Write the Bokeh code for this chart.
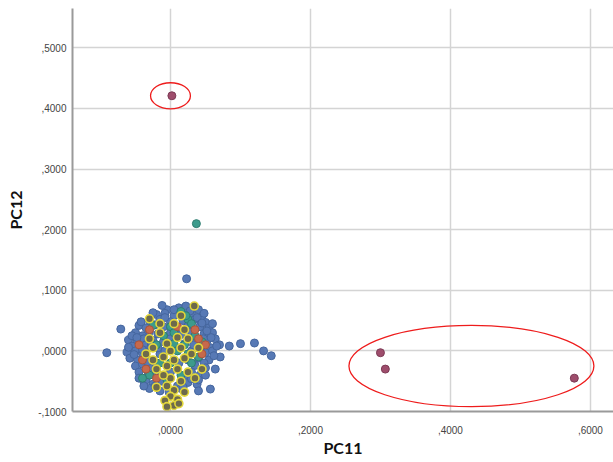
from bokeh.plotting import figure
from bokeh.models import Range1d, FixedTicker, CustomJSTickFormatter
from bokeh.embed import file_html
from bokeh.resources import INLINE

# ---- data (PC11, PC12) ----
blue_x = [-0.005, 0.012, 0.022, 0.040,
          -0.020, -0.008, 0.005, 0.030, 0.045,
          -0.030, -0.015, 0.000, 0.018, 0.035, 0.050,
          -0.045, -0.035, -0.022, -0.010, 0.008, 0.025, 0.042, 0.055,
          -0.071, -0.050, -0.040, -0.030, -0.018, 0.000, 0.015, 0.030, 0.048, 0.060,
          -0.060, -0.048, -0.038, -0.025, 0.005, 0.040, 0.052, 0.064,
          -0.055, -0.045, -0.035, -0.028, 0.045, 0.058, 0.070, 0.084, 0.100, 0.120,
          -0.091, -0.062, -0.050, -0.040, 0.050, 0.060, 0.071, 0.133, 0.144,
          -0.058, -0.047, -0.035, 0.040, 0.055, 0.048,
          -0.050, -0.040, -0.030, 0.035, 0.050, 0.064,
          -0.045, -0.032, -0.020, 0.030, 0.042, 0.020,
          -0.038, -0.025, -0.012, 0.025, 0.038, 0.010,
          -0.030, 0.057, 0.040, -0.015,
          -0.010, 0.020, 0.030, -0.015, 0.012, -0.020, 0.025, 0.000, -0.008, 0.035,
          0.023,
          -0.012, 0.028, 0.048, -0.025, 0.060, -0.055, -0.042, -0.052, 0.058, -0.040,
          -0.028, 0.038, 0.052, -0.048, 0.045, 0.062, -0.035, -0.022, 0.030, 0.015,
          -0.008, 0.005, -0.033, 0.033, -0.045, 0.040, 0.020, -0.018, 0.000, 0.050,
          -0.060, 0.066, -0.038, 0.047, -0.002, 0.018]
blue_y = [0.068, 0.071, 0.074, 0.068,
          0.060, 0.062, 0.058, 0.062, 0.057,
          0.050, 0.052, 0.048, 0.050, 0.052, 0.047,
          0.042, 0.038, 0.043, 0.040, 0.038, 0.041, 0.040, 0.038,
          0.036, 0.030, 0.025, 0.032, 0.028, 0.030, 0.027, 0.031, 0.028, 0.030,
          0.018, 0.015, 0.020, 0.017, 0.018, 0.019, 0.016, 0.020,
          0.008, 0.005, 0.010, 0.006, 0.008, 0.005, 0.010, 0.008, 0.012, 0.013,
          -0.003, -0.002, 0.000, -0.004, -0.003, 0.000, -0.010, 0.000, -0.008,
          -0.012, -0.015, -0.010, -0.012, -0.015, -0.020,
          -0.025, -0.022, -0.028, -0.024, -0.028, -0.030,
          -0.035, -0.040, -0.036, -0.035, -0.040, -0.042,
          -0.050, -0.055, -0.050, -0.052, -0.055, -0.058,
          -0.062, -0.063, -0.066, -0.066,
          0.015, 0.012, 0.000, -0.005, -0.020, -0.020, -0.015, -0.035, 0.000, 0.015,
          0.119,
          0.075, 0.066, 0.062, 0.063, 0.045, 0.025, 0.048, -0.006, 0.022, 0.002,
          0.015, 0.055, 0.033, 0.022, 0.046, -0.008, -0.048, -0.058, -0.046, -0.062,
          0.055, 0.068, -0.018, 0.010, -0.045, -0.048, 0.060, 0.005, 0.020, -0.040,
          0.006, 0.008, -0.058, 0.020, -0.068, -0.060]

teal_x = [0.015, 0.025, 0.000, 0.030, -0.010, 0.005, 0.020, 0.035, -0.020, 0.010,
          0.025, -0.015, 0.000, 0.030, -0.030, -0.040, 0.045, 0.040, 0.015, 0.005,
          0.037, -0.025, 0.022, -0.005]
teal_y = [0.065, 0.052, 0.040, 0.045, 0.025, 0.030, 0.010, 0.025, 0.010, 0.000,
          -0.005, -0.020, -0.020, -0.020, -0.040, -0.045, 0.015, -0.010, -0.040, 0.012,
          0.210, 0.042, 0.058, -0.048]

yellow_x = [0.034, -0.030, 0.005, 0.020, -0.015, 0.010, -0.005, 0.025, -0.025, 0.000,
            0.015, 0.030, -0.010, 0.005, 0.020, -0.020, -0.005, 0.010, 0.025, 0.000,
            -0.010, 0.015, -0.005, 0.005, -0.020, 0.020, 0.000, 0.010, -0.008, 0.005,
            -0.005, 0.012, 0.035, -0.025, 0.040, -0.035, 0.045, -0.030, 0.015, -0.015]
yellow_y = [0.074, 0.053, 0.045, 0.035, 0.030, 0.022, 0.012, 0.020, 0.005, 0.000,
            0.005, -0.005, -0.010, -0.015, -0.012, -0.030, -0.025, -0.030, -0.035, -0.045,
            -0.040, -0.050, -0.058, -0.065, -0.060, -0.068, -0.075, -0.080, -0.082, -0.090,
            -0.092, -0.087, -0.045, -0.015, 0.005, -0.005, -0.030, 0.020, 0.058, 0.045]

red_x = [-0.040, -0.045, 0.040, 0.045, -0.020, 0.035, -0.035, 0.010, -0.030, 0.050]
red_y = [-0.015, 0.010, 0.020, -0.005, -0.045, 0.035, -0.030, 0.040, 0.035, 0.010]

maroon_x = [0.002, 0.300, 0.307, 0.577]
maroon_y = [0.421, -0.003, -0.030, -0.045]

# highlight ellipses (center x, center y, width, height in data units)
ell_x = [0.000, 0.430]
ell_y = [0.421, -0.025]
ell_w = [0.057, 0.350]
ell_h = [0.043, 0.134]

x_ticks = [0.0, 0.2, 0.4, 0.6]
y_ticks = [-0.1, 0.0, 0.1, 0.2, 0.3, 0.4, 0.5]

p = figure(width=613, height=462, output_backend="svg", toolbar_location=None,
           x_range=Range1d(-0.14, 0.633), y_range=Range1d(-0.1, 0.565),
           min_border_left=72, min_border_right=0, min_border_top=8, min_border_bottom=51)
p.outline_line_color = None
p.background_fill_color = "white"
p.border_fill_color = "white"

fmt = CustomJSTickFormatter(code="""
let s = tick.toFixed(4).replace('.', ',');
s = s.replace(/^0,/, ',').replace(/^-0,/, '-,');
return s;
""")

p.xaxis.ticker = FixedTicker(ticks=x_ticks)
p.yaxis.ticker = FixedTicker(ticks=y_ticks)
for ax in (p.xaxis[0], p.yaxis[0]):
    ax.formatter = fmt
    ax.major_tick_in = 0
    ax.major_tick_out = 0
    ax.minor_tick_in = 0
    ax.minor_tick_out = 0
    ax.axis_line_color = "#9a9a9a"
    ax.axis_line_width = 2
    ax.major_label_text_font = "Liberation Sans"
    ax.major_label_text_font_size = "10px"
    ax.major_label_text_color = "#444444"
    ax.axis_label_text_font = "Lato"
    ax.axis_label_text_font_style = "bold"
    ax.axis_label_text_font_size = "16px"
    ax.axis_label_text_color = "#111111"

p.xaxis.axis_label = "PC11"
p.yaxis.axis_label = "PC12"
p.xaxis.major_label_standoff = 14
p.yaxis.major_label_standoff = 6
p.xaxis.axis_label_standoff = 1
p.yaxis.axis_label_standoff = 10

p.xgrid.grid_line_color = "#d4d4d4"
p.ygrid.grid_line_color = "#d4d4d4"
p.xgrid.grid_line_width = 1.5
p.ygrid.grid_line_width = 1.5

p.scatter(blue_x, blue_y, size=8, fill_color="#5779b5", line_color="#45669e", line_width=1)
p.scatter(teal_x, teal_y, size=8, fill_color="#3d9b8c", line_color="#2f7d70", line_width=1)
p.scatter(red_x, red_y, size=8, fill_color="#c6694c", line_color="#a8553c", line_width=1)
p.scatter(yellow_x, yellow_y, size=8, fill_color="#6d6a4c", line_color="#e3d73a", line_width=1.6)
p.scatter(maroon_x, maroon_y, size=8, fill_color="#9e4d6c", line_color="#7d3a55", line_width=1)

p.ellipse(x=ell_x, y=ell_y, width=ell_w, height=ell_h, fill_color=None,
          line_color="#ee1c1c", line_width=1.3)

open("out.html", "w").write(file_html(p, INLINE))
